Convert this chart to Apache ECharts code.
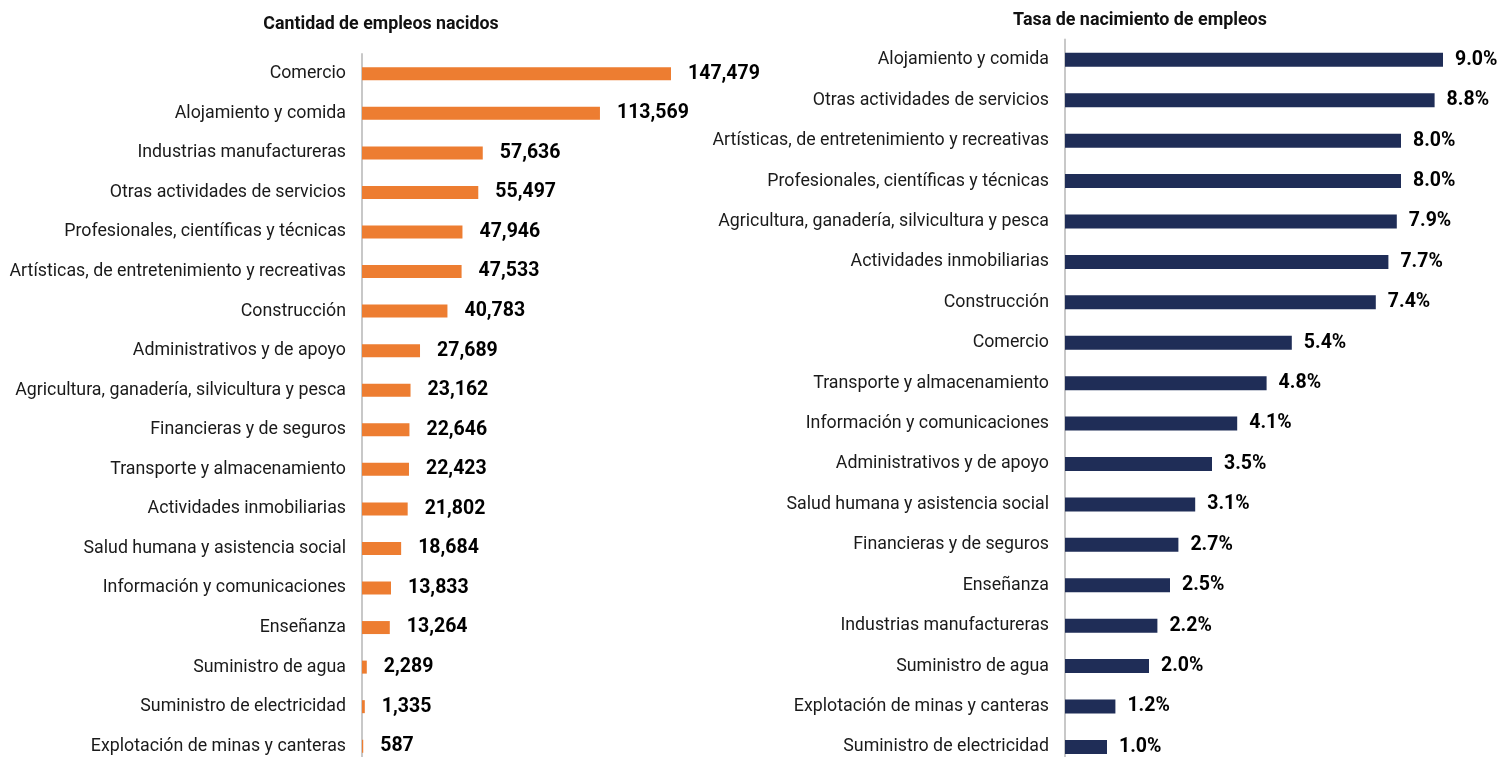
<!DOCTYPE html>
<html><head><meta charset="utf-8">
<script src="https://cdn.jsdelivr.net/npm/echarts@6/dist/echarts.min.js"></script>
<style>html,body{margin:0;padding:0;background:#fff;overflow:hidden}#c{width:1500px;height:800px}</style>
</head><body><div id="c"></div>
<script>
const leftTitle = 'Cantidad de empleos nacidos';
const rightTitle = 'Tasa de nacimiento de empleos';
const leftCategories = ['Comercio','Alojamiento y comida','Industrias manufactureras','Otras actividades de servicios','Profesionales, científicas y técnicas','Artísticas, de entretenimiento y recreativas','Construcción','Administrativos y de apoyo','Agricultura, ganadería, silvicultura y pesca','Financieras y de seguros','Transporte y almacenamiento','Actividades inmobiliarias','Salud humana y asistencia social','Información y comunicaciones','Enseñanza','Suministro de agua','Suministro de electricidad','Explotación de minas y canteras'];
const leftValues = [147479,113569,57636,55497,47946,47533,40783,27689,23162,22646,22423,21802,18684,13833,13264,2289,1335,587];
const rightCategories = ['Alojamiento y comida','Otras actividades de servicios','Artísticas, de entretenimiento y recreativas','Profesionales, científicas y técnicas','Agricultura, ganadería, silvicultura y pesca','Actividades inmobiliarias','Construcción','Comercio','Transporte y almacenamiento','Información y comunicaciones','Administrativos y de apoyo','Salud humana y asistencia social','Financieras y de seguros','Enseñanza','Industrias manufactureras','Suministro de agua','Explotación de minas y canteras','Suministro de electricidad'];
const rightValues = [9.0,8.8,8.0,8.0,7.9,7.7,7.4,5.4,4.8,4.1,3.5,3.1,2.7,2.5,2.2,2.0,1.2,1.0];

const font = 'Roboto, "Noto Sans", sans-serif';
const chart = echarts.init(document.getElementById('c'));
const catAxis = (gi, data) => ({
  type:'category', gridIndex:gi, data, inverse:true,
  axisLine:{show:true, lineStyle:{color:'#c8c8c8', width:2}},
  axisTick:{show:false},
  axisLabel:{color:'#1a1a1a', fontSize:17.8, fontFamily:font, margin:16}
});
chart.setOption({
  animation:false,
  title:[
    {text:leftTitle, left:376, top:11, textAlign:'center', textStyle:{fontSize:17.8, fontWeight:'bold', color:'#111', fontFamily:font}},
    {text:rightTitle, left:1135, top:7, textAlign:'center', textStyle:{fontSize:17.9, fontWeight:'bold', color:'#111', fontFamily:font}}
  ],
  grid:[
    {left:362, top:54, width:309, height:712},
    {left:1065, top:39.6, width:378, height:727.5}
  ],
  xAxis:[
    {type:'value', gridIndex:0, min:0, max:147479, show:false},
    {type:'value', gridIndex:1, min:0, max:9, show:false}
  ],
  yAxis:[catAxis(0, leftCategories), catAxis(1, rightCategories)],
  series:[
    {type:'bar', xAxisIndex:0, yAxisIndex:0, data:leftValues, barWidth:13,
     itemStyle:{color:'#ED7D31'},
     label:{show:true, position:'right', distance:17, color:'#000', fontWeight:'bold', fontSize:19.5, fontFamily:font,
       formatter:p=>p.value.toLocaleString('en-US')}},
    {type:'bar', xAxisIndex:1, yAxisIndex:1, data:rightValues, barWidth:14,
     itemStyle:{color:'#1F2D57'},
     label:{show:true, position:'right', distance:12, color:'#000', fontWeight:'bold', fontSize:19.5, fontFamily:font,
       formatter:p=>p.value.toFixed(1)+'%'}}
  ]
});
</script></body></html>
